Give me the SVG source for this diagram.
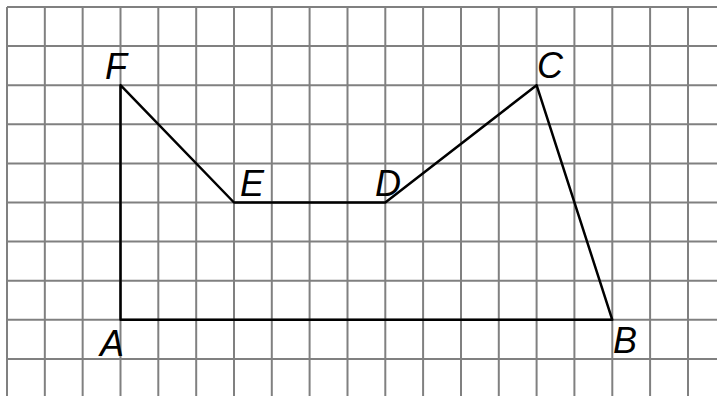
<svg xmlns="http://www.w3.org/2000/svg" width="717" height="396" viewBox="0 0 717 396">
<defs>
<style>
.grid line{stroke:#808080;stroke-width:2}
.edge{stroke:#000;stroke-width:2.5;fill:none;stroke-linecap:round;stroke-linejoin:round}
.lbl{font-family:"Liberation Sans",Arial,sans-serif;font-size:36px;font-style:italic;fill:#000}
</style>
</defs>
<rect width="717" height="396" fill="#fff"/>
<g class="grid" id="grid">
<line x1="7" y1="7" x2="7" y2="396"/>
<line x1="44.83" y1="7" x2="44.83" y2="396"/>
<line x1="82.66" y1="7" x2="82.66" y2="396"/>
<line x1="120.5" y1="7" x2="120.5" y2="396"/>
<line x1="158.3" y1="7" x2="158.3" y2="396"/>
<line x1="196.2" y1="7" x2="196.2" y2="396"/>
<line x1="234" y1="7" x2="234" y2="396"/>
<line x1="271.8" y1="7" x2="271.8" y2="396"/>
<line x1="309.6" y1="7" x2="309.6" y2="396"/>
<line x1="347.5" y1="7" x2="347.5" y2="396"/>
<line x1="385.3" y1="7" x2="385.3" y2="396"/>
<line x1="423.1" y1="7" x2="423.1" y2="396"/>
<line x1="461" y1="7" x2="461" y2="396"/>
<line x1="498.8" y1="7" x2="498.8" y2="396"/>
<line x1="536.6" y1="7" x2="536.6" y2="396"/>
<line x1="574.4" y1="7" x2="574.4" y2="396"/>
<line x1="612.3" y1="7" x2="612.3" y2="396"/>
<line x1="650.1" y1="7" x2="650.1" y2="396"/>
<line x1="688" y1="7" x2="688" y2="396"/>
<line x1="7" y1="7" x2="717" y2="7"/>
<line x1="7" y1="46.1" x2="717" y2="46.1"/>
<line x1="7" y1="85.2" x2="717" y2="85.2"/>
<line x1="7" y1="124.3" x2="717" y2="124.3"/>
<line x1="7" y1="163.4" x2="717" y2="163.4"/>
<line x1="7" y1="202.5" x2="717" y2="202.5"/>
<line x1="7" y1="241.6" x2="717" y2="241.6"/>
<line x1="7" y1="280.7" x2="717" y2="280.7"/>
<line x1="7" y1="319.8" x2="717" y2="319.8"/>
<line x1="7" y1="358.9" x2="717" y2="358.9"/>
</g>
<g id="connectors">
<polygon class="edge" points="120.5,319.8 612.3,319.8 536.6,85.2 385.3,202.5 234,202.5 120.5,85.2"/>
</g>
<g id="F"><text class="lbl" x="105" y="79">F</text></g>
<g id="C"><text class="lbl" x="537" y="78">C</text></g>
<g id="E"><text class="lbl" x="240" y="196">E</text></g>
<g id="D"><text class="lbl" x="375" y="196">D</text></g>
<g id="A"><text class="lbl" x="100" y="356">A</text></g>
<g id="B"><text class="lbl" x="613" y="353">B</text></g>
</svg>
